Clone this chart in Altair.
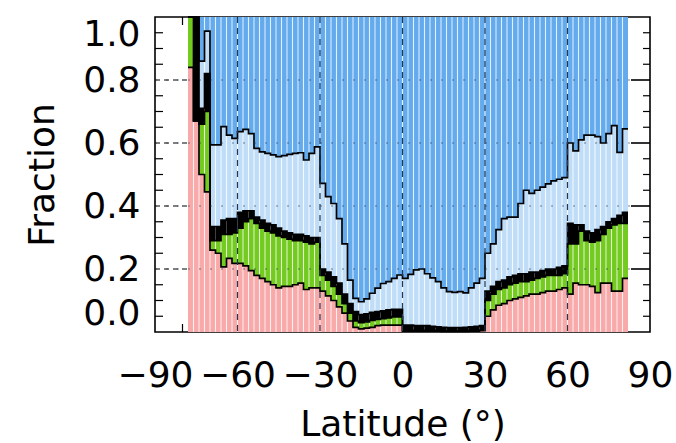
import altair as alt
import pandas as pd

# ---------------- data ----------------
lat_start = list(range(-78, 82, 2))          # 80 latitude bins, 2 deg wide
bin_width = 2

pink_top = [0.84, 0.67, 0.50, 0.445, 0.26, 0.25, 0.207, 0.234, 0.218, 0.218,
            0.21, 0.195, 0.18, 0.17, 0.16, 0.15, 0.14, 0.145, 0.145, 0.15,
            0.155, 0.135, 0.14, 0.14, 0.13, 0.115, 0.10, 0.08, 0.06, 0.035,
            0.015, 0.01, 0.012, 0.015, 0.02, 0.022, 0.022, 0.022, 0.022, 0.003,
            0.003, 0.003, 0.003, 0.003, 0.003, 0.003, 0.002, 0.002, 0.002, 0.002,
            0.002, 0.003, 0.003, 0.004, 0.05, 0.07, 0.085, 0.09, 0.10, 0.105,
            0.11, 0.115, 0.12, 0.12, 0.125, 0.13, 0.13, 0.135, 0.14, 0.12,
            0.155, 0.15, 0.15, 0.145, 0.125, 0.155, 0.155, 0.13, 0.13, 0.17]
green_top = [1.00, 0.67, 0.66, 0.70, 0.29, 0.29, 0.31, 0.31, 0.315, 0.33,
             0.35, 0.36, 0.345, 0.33, 0.32, 0.315, 0.305, 0.30, 0.295, 0.29,
             0.29, 0.285, 0.28, 0.285, 0.18, 0.165, 0.145, 0.12, 0.09, 0.06,
             0.035, 0.03, 0.032, 0.037, 0.04, 0.042, 0.045, 0.048, 0.048, 0.005,
             0.005, 0.005, 0.005, 0.005, 0.005, 0.005, 0.004, 0.004, 0.004, 0.004,
             0.004, 0.005, 0.005, 0.006, 0.10, 0.12, 0.135, 0.14, 0.15, 0.155,
             0.16, 0.16, 0.165, 0.17, 0.175, 0.18, 0.18, 0.18, 0.185, 0.28,
             0.28, 0.32, 0.29, 0.285, 0.29, 0.31, 0.33, 0.34, 0.345, 0.345]
black_top = [1.00, 1.00, 0.71, 0.82, 0.335, 0.335, 0.355, 0.36, 0.36, 0.38,
             0.385, 0.385, 0.365, 0.355, 0.345, 0.34, 0.33, 0.32, 0.315, 0.31,
             0.31, 0.305, 0.30, 0.30, 0.20, 0.19, 0.175, 0.155, 0.12, 0.09,
             0.065, 0.055, 0.058, 0.062, 0.065, 0.067, 0.07, 0.072, 0.072, 0.022,
             0.022, 0.02, 0.02, 0.02, 0.018, 0.016, 0.015, 0.014, 0.014, 0.014,
             0.015, 0.016, 0.018, 0.02, 0.13, 0.145, 0.16, 0.165, 0.175, 0.18,
             0.185, 0.185, 0.19, 0.19, 0.195, 0.20, 0.20, 0.205, 0.21, 0.345,
             0.34, 0.34, 0.32, 0.315, 0.325, 0.335, 0.35, 0.36, 0.37, 0.38]
lightblue_top = [1.00, 1.00, 0.86, 0.955, 0.594, 0.594, 0.652, 0.625, 0.615, 0.636,
                 0.643, 0.63, 0.583, 0.572, 0.567, 0.562, 0.557, 0.56, 0.564, 0.567,
                 0.569, 0.546, 0.567, 0.588, 0.472, 0.43, 0.408, 0.36, 0.28, 0.165,
                 0.107, 0.096, 0.105, 0.123, 0.139, 0.154, 0.16, 0.17, 0.181, 0.17,
                 0.183, 0.197, 0.20, 0.185, 0.172, 0.16, 0.14, 0.128, 0.126, 0.128,
                 0.124, 0.14, 0.155, 0.17, 0.25, 0.28, 0.325, 0.36, 0.365, 0.365,
                 0.408, 0.45, 0.44, 0.45, 0.46, 0.47, 0.48, 0.485, 0.49, 0.60,
                 0.575, 0.61, 0.625, 0.625, 0.62, 0.60, 0.63, 0.655, 0.57, 0.645]

layer_names = ["pink", "green", "black", "lightblue", "blue"]
layer_colors = ["#F8A9A9", "#72CB1E", "#000000", "#C0DDF8", "#64ABEE"]

x_ticks = [-90, -60, -30, 0, 30, 60, 90]
y_ticks = [0.0, 0.2, 0.4, 0.6, 0.8, 1.0]
y_grid = [0.2, 0.4, 0.6, 0.8]
x_grid = [-60, -30, 0, 30, 60]
y_minor = [0.05, 0.1, 0.15, 0.25, 0.3, 0.35, 0.45, 0.5, 0.55, 0.65, 0.7, 0.75, 0.85, 0.9, 0.95]
x_minor = [-80]
empty_left = (-90, -78)     # latitude span with no data (left)

# ---------------- tables ----------------
rows = []
for i, x0 in enumerate(lat_start):
    bounds = [0.0, pink_top[i], green_top[i], black_top[i], lightblue_top[i], 1.0]
    for k, name in enumerate(layer_names):
        rows.append(dict(lat=x0, lat2=x0 + bin_width, y0=bounds[k], y1=bounds[k + 1], layer=name))
fills = pd.DataFrame(rows)

stripes = pd.DataFrame({"lat": lat_start[1:], "y0": 0.0, "y1": 1.0})

line_rows = []
for name, vals in [("pink", pink_top), ("green", green_top), ("black", black_top), ("lightblue", lightblue_top)]:
    for i, x0 in enumerate(lat_start):
        line_rows.append(dict(lat=x0, v=vals[i], s=name))
    line_rows.append(dict(lat=lat_start[-1] + bin_width, v=vals[-1], s=name))
steps = pd.DataFrame(line_rows)

hgrid_df = pd.DataFrame({"g": y_grid, "a": empty_left[0], "b": empty_left[1]})

W, H = 495, 315
FONT = "DejaVu Sans"
FS = 36
xs = alt.Scale(domain=[-90, 90], nice=False, zero=False)
ys = alt.Scale(domain=[0, 1], nice=False, zero=False)
cs = alt.Scale(domain=layer_names, range=layer_colors)

# ---------------- layers ----------------
base_fill = alt.Chart(fills).mark_bar(strokeWidth=0).encode(
    x=alt.X("lat:Q", scale=xs,
            axis=alt.Axis(values=x_ticks, title="Latitude (°)", labelPadding=26, labelFlush=False,
                          titleY=103, titleBaseline="alphabetic")),
    x2="lat2:Q",
    y=alt.Y("y0:Q", scale=ys,
            axis=alt.Axis(values=y_ticks, format=".1f", title="Fraction",
                          labelPadding=15, labelFlush=True,
                          titleX=-102, titleY=H / 2, titleBaseline="alphabetic")),
    y2="y1:Q",
    color=alt.Color("layer:N", scale=cs, legend=None),
).transform_filter(alt.datum.layer != "black")

hgrid_edge = alt.Chart(hgrid_df).mark_rule(color="black", strokeWidth=1, strokeDash=[5, 4]).encode(
    y=alt.Y("g:Q", scale=ys), x=alt.X("a:Q", scale=xs), x2="b:Q")

left_minor = alt.Chart(pd.DataFrame({"m": y_minor})).mark_rule(color="black", strokeWidth=1.2).encode(
    y=alt.Y("m:Q", scale=ys), x=alt.value(0), x2=alt.value(8))
right_minor = alt.Chart(pd.DataFrame({"m": y_minor})).mark_rule(color="black", strokeWidth=1.2).encode(
    y=alt.Y("m:Q", scale=ys), x=alt.value(W - 7), x2=alt.value(W))
right_major = alt.Chart(pd.DataFrame({"g": y_grid})).mark_rule(color="black", strokeWidth=1.6).encode(
    y=alt.Y("g:Q", scale=ys), x=alt.value(W - 19), x2=alt.value(W))
bottom_minor = alt.Chart(pd.DataFrame({"m": x_minor})).mark_rule(color="black", strokeWidth=1.2).encode(
    x=alt.X("m:Q", scale=xs), y=alt.value(H - 8), y2=alt.value(H))
top_minor = alt.Chart(pd.DataFrame({"m": x_minor})).mark_rule(color="black", strokeWidth=1.2).encode(
    x=alt.X("m:Q", scale=xs), y=alt.value(0), y2=alt.value(8))

stripe_layer = alt.Chart(stripes).mark_rule(color="white", strokeWidth=1.1, opacity=0.75).encode(
    x=alt.X("lat:Q", scale=xs), y=alt.Y("y0:Q", scale=ys), y2="y1:Q")

black_fill = alt.Chart(fills).mark_bar(strokeWidth=0, color="black").encode(
    x=alt.X("lat:Q", scale=xs), x2="lat2:Q",
    y=alt.Y("y0:Q", scale=ys), y2="y1:Q",
).transform_filter(alt.datum.layer == "black")

step_lines = alt.Chart(steps).mark_line(interpolate="step-after", color="black", strokeWidth=1.7).encode(
    x=alt.X("lat:Q", scale=xs), y=alt.Y("v:Q", scale=ys), detail="s:N")

vgrid = alt.Chart(pd.DataFrame({"g": x_grid})).mark_rule(
    color="#243650", strokeWidth=1.2, strokeDash=[6, 5], opacity=1.0
).encode(x=alt.X("g:Q", scale=xs), y=alt.value(0), y2=alt.value(H))

hgrid_over = alt.Chart(pd.DataFrame({"g": y_grid})).mark_rule(
    color="#243650", strokeWidth=1.2, strokeDash=[2, 9], opacity=0.6
).encode(y=alt.Y("g:Q", scale=ys), x=alt.value(0), x2=alt.value(W))

chart = alt.layer(
    base_fill, hgrid_edge, left_minor, right_minor, right_major, bottom_minor, top_minor,
    stripe_layer, black_fill, step_lines, vgrid, hgrid_over,
).properties(
    width=W, height=H,
    autosize=alt.AutoSizeParams(type="none"),
    padding={"left": 155, "top": 17, "right": 26, "bottom": 111},
    background="white",
).configure_view(
    stroke="black", strokeWidth=1.6
).configure_axis(
    ticks=False, domain=False, grid=False,
    labelFont=FONT, labelFontSize=FS, labelColor="black", labelOverlap=False,
    titleFont=FONT, titleFontSize=FS, titleFontWeight="normal", titleColor="black",
)

chart.save("out.html", embed_options={"renderer": "svg", "actions": False})
